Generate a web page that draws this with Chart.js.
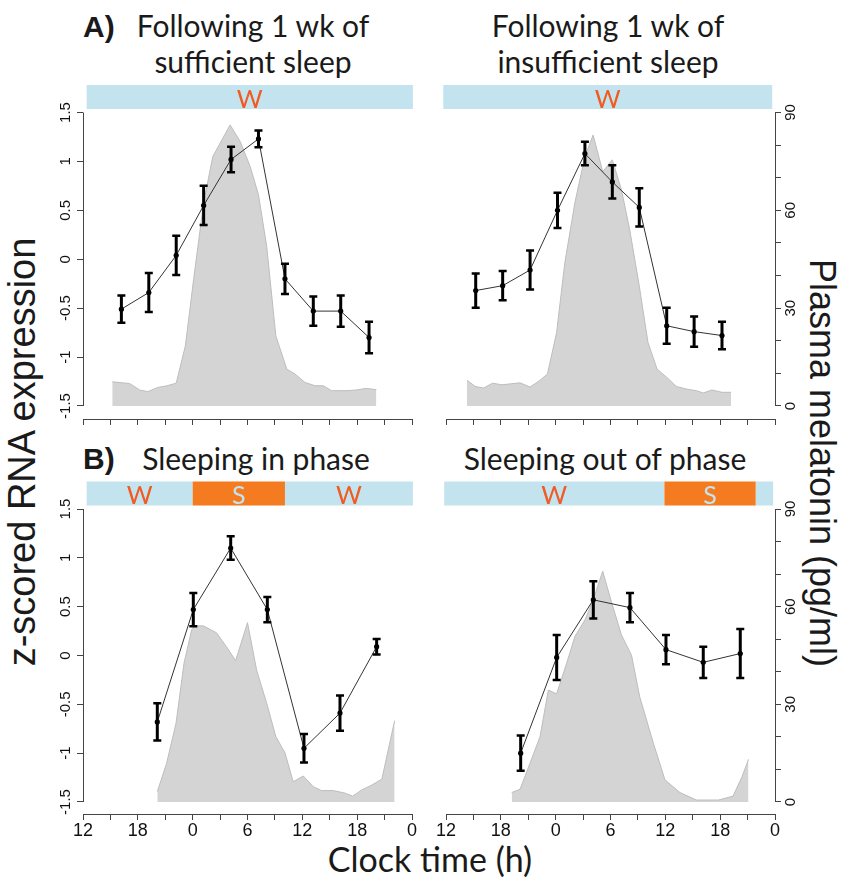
<!DOCTYPE html>
<html>
<head>
<meta charset="utf-8">
<script src="https://cdn.jsdelivr.net/npm/chart.js@4.4.1/dist/chart.umd.min.js"></script>
<style>
html, body { margin: 0; padding: 0; background: #ffffff; }
body { width: 842px; height: 878px; position: relative; overflow: hidden; }
canvas { position: absolute; }
.t { position: absolute; white-space: nowrap; color: #1a1a1a; }
.ttl { font-family: Lato, "Open Sans", sans-serif; font-size: 30px; line-height: 36px; text-align: center; width: 340px; }
.lab { font-family: "Liberation Sans", Arial, sans-serif; font-weight: bold; font-size: 30px; line-height: 30px; }
.ax { font-family: "Liberation Sans", Arial, sans-serif; line-height: 44px; }
</style>
</head>
<body>
<div class="t lab" style="left:83px; top:12px;">A)</div>
<div class="t ttl" style="left:83px; top:7px;">Following 1 wk of<br>sufficient sleep</div>
<div class="t ttl" style="left:438px; top:7px;">Following 1 wk of<br>insufficient sleep</div>
<div class="t lab" style="left:83px; top:444px;">B)</div>
<div class="t ttl" style="left:86px; top:440px;">Sleeping in phase</div>
<div class="t ttl" style="left:435px; top:440px;">Sleeping out of phase</div>
<div class="t ax" style="left:22px; top:452px; font-size:38px; transform: translate(-50%,-50%) rotate(-90deg);">z-scored RNA expression</div>
<div class="t ax" style="left:822px; top:463px; font-size:36px; transform: translate(-50%,-50%) rotate(90deg);">Plasma melatonin (pg/ml)</div>
<div class="t" style="left:430px; top:859px; transform: translate(-50%,-50%); font-family: Lato, sans-serif; font-size: 34px; line-height: 38px;">Clock time (h)</div>

<script>
// ---------- axes (x in hours after 12:00 on day 1) ----------
const xTickValues = [0, 3, 6, 9, 12, 15, 18, 21, 24, 27, 30, 33, 36];
const xTickLabels = ['12', '', '18', '', '0', '', '6', '', '12', '', '18', '', '0'];
const zTickValues = [-1.5, -1, -0.5, 0, 0.5, 1, 1.5];
const zTickLabels = ['-1.5', '-1', '-0.5', '0', '0.5', '1', '1.5'];
const melTickValues = [0, 10, 20, 30, 40, 50, 60, 70, 80, 90];
const melTickLabels = ['0', '', '', '30', '', '', '60', '', '', '90'];

// ---------- A) sufficient sleep ----------
const suffRnaTime = [4.2, 7.2, 10.2, 13.2, 16.2, 19.2, 22.1, 25.2, 28.2, 31.3];
const suffRna = [-0.51, -0.34, 0.04, 0.55, 1.02, 1.23, -0.2, -0.53, -0.53, -0.8];
const suffRnaErr = [0.14, 0.2, 0.2, 0.2, 0.13, 0.085, 0.155, 0.15, 0.16, 0.16];
const suffMelTime = [3.2, 5.1, 6.2, 7.1, 8.2, 9.2, 10.2, 11.2, 12.1, 13.2, 14.2, 16.1, 17.2, 18.3, 19.2, 20.1, 21.1, 22.3, 23.2, 24.3, 25.4, 26.3, 27.2, 28.9, 29.9, 31.0, 32.1];
const suffMel = [7.4, 6.9, 4.9, 4.4, 5.7, 6.2, 7.0, 18.4, 38.8, 62.3, 76.5, 86.2, 81.1, 73.4, 64.8, 49.0, 21.5, 11.3, 9.8, 7.2, 6.2, 6.2, 4.7, 4.7, 4.9, 5.4, 5.0];
const suffStateStart = [0.4];
const suffStateEnd = [36.1];
const suffStateType = ['W'];
const suffStateLabel = ['W'];

// ---------- A) insufficient sleep ----------
const insuffRnaTime = [3.25, 6.2, 9.2, 12.2, 15.2, 18.2, 21.15, 24.15, 27.15, 30.2];
const insuffRna = [-0.32, -0.27, -0.11, 0.5, 1.08, 0.79, 0.53, -0.68, -0.74, -0.78];
const insuffRnaErr = [0.175, 0.15, 0.2, 0.18, 0.12, 0.17, 0.195, 0.185, 0.155, 0.14];
const insuffMelTime = [2.3, 3.2, 4.1, 5.1, 6.1, 7.1, 8.1, 9.2, 10.2, 11.1, 12.1, 13.0, 14.1, 15.2, 16.1, 17.15, 18.2, 19.2, 20.1, 21.15, 22.1, 23.1, 24.15, 25.2, 26.3, 27.4, 28.15, 29.1, 30.2, 31.2];
const insuffMel = [7.9, 6.0, 5.5, 7.0, 6.5, 6.8, 7.1, 5.8, 7.7, 9.8, 22.5, 43.9, 62.3, 76.5, 83.1, 71.9, 75.5, 66.3, 54.1, 36.8, 19.5, 11.3, 8.8, 6.0, 5.2, 4.7, 4.0, 4.9, 4.2, 4.2];
const insuffStateStart = [-0.3];
const insuffStateEnd = [35.7];
const insuffStateType = ['W'];
const insuffStateLabel = ['W'];

// ---------- B) sleeping in phase ----------
const inPhaseRnaTime = [8.13, 12.07, 16.16, 20.17, 24.18, 28.12, 32.13];
const inPhaseRna = [-0.68, 0.47, 1.10, 0.47, -0.95, -0.59, 0.09];
const inPhaseRnaErr = [0.19, 0.17, 0.12, 0.13, 0.145, 0.18, 0.08];
const inPhaseMelTime = [8.13, 9.15, 10.18, 11.05, 11.9, 12.26, 13.17, 14.6, 15.7, 16.7, 18.0, 19.0, 20.1, 21.1, 22.1, 23.0, 24.1, 25.2, 26.1, 27.4, 28.7, 29.5, 30.5, 31.6, 32.7, 34.1];
const inPhaseMel = [3.2, 11.9, 24.2, 42.6, 53.0, 54.1, 54.1, 52.0, 47.7, 43.4, 55.1, 40.5, 30.3, 20.1, 15.1, 6.2, 8.0, 4.7, 3.5, 3.5, 2.7, 1.8, 3.7, 5.2, 7.0, 25.0];
const inPhaseStateStart = [0.4, 12.0, 22.1];
const inPhaseStateEnd = [12.0, 22.1, 36.1];
const inPhaseStateType = ['W', 'S', 'W'];
const inPhaseStateLabel = ['W', 'S', 'W'];

// ---------- B) sleeping out of phase ----------
const outPhaseRnaTime = [8.17, 12.11, 16.12, 20.13, 24.07, 28.15, 32.2];
const outPhaseRna = [-1.0, -0.02, 0.57, 0.49, 0.06, -0.07, 0.02];
const outPhaseRnaErr = [0.18, 0.23, 0.19, 0.15, 0.15, 0.16, 0.25];
const outPhaseMelTime = [7.19, 8.1, 9.19, 10.29, 11.2, 12.1, 13.2, 14.1, 15.2, 16.1, 17.15, 18.1, 19.2, 20.3, 21.2, 22.7, 23.96, 25.6, 27.4, 29.8, 31.4, 32.4, 33.1];
const outPhaseMel = [2.9, 3.9, 11.9, 20.1, 34.4, 33.2, 42.6, 50.8, 55.9, 62.0, 70.9, 61.5, 51.3, 45.1, 32.3, 18.0, 6.8, 2.9, 0.6, 0.6, 1.8, 7.8, 13.1];
const outPhaseStateStart = [-0.2, 23.9, 33.9];
const outPhaseStateEnd = [23.9, 33.9, 35.8];
const outPhaseStateType = ['W', 'S', 'W'];
const outPhaseStateLabel = ['W', 'S', ''];

// ---------- styling ----------
const WAKE_COLOR = '#c3e4ee';
const SLEEP_COLOR = '#f47b20';
const W_LETTER = '#f15a22';
const AXIS_COLOR = '#444444';
const AREA_FILL = '#d4d4d4';
const AREA_LINE = '#bdbdbd';

const panels = [
  { canvas: [40, 76, 392, 356], area: [83, 412, 112.5, 419], left: true, right: false, xlabels: false, zMin: -1.633,
    rnaT: suffRnaTime, rna: suffRna, err: suffRnaErr, melT: suffMelTime, mel: suffMel,
    stStart: suffStateStart, stEnd: suffStateEnd, stType: suffStateType, stLabel: suffStateLabel },
  { canvas: [425, 76, 417, 356], area: [446, 775, 112.5, 419], left: false, right: true, xlabels: false, zMin: -1.633,
    rnaT: insuffRnaTime, rna: insuffRna, err: insuffRnaErr, melT: insuffMelTime, mel: insuffMel,
    stStart: insuffStateStart, stEnd: insuffStateEnd, stType: insuffStateType, stLabel: insuffStateLabel },
  { canvas: [40, 472, 392, 372], area: [83, 412, 509, 814], left: true, right: false, xlabels: true, zMin: -1.623,
    rnaT: inPhaseRnaTime, rna: inPhaseRna, err: inPhaseRnaErr, melT: inPhaseMelTime, mel: inPhaseMel,
    stStart: inPhaseStateStart, stEnd: inPhaseStateEnd, stType: inPhaseStateType, stLabel: inPhaseStateLabel },
  { canvas: [425, 472, 417, 372], area: [446, 775, 509, 814], left: false, right: true, xlabels: true, zMin: -1.623,
    rnaT: outPhaseRnaTime, rna: outPhaseRna, err: outPhaseRnaErr, melT: outPhaseMelTime, mel: outPhaseMel,
    stStart: outPhaseStateStart, stEnd: outPhaseStateEnd, stType: outPhaseStateType, stLabel: outPhaseStateLabel }
];

function align(px) { return Math.round(px - 0.5) + 0.5; }

function decorFor(p) {
  return {
    id: 'decor',
    afterDatasetsDraw(chart) {
      const ctx = chart.ctx, xs = chart.scales.x, zs = chart.scales.z;
      ctx.save();
      ctx.strokeStyle = '#000';
      p.rnaT.forEach((t, i) => {
        const px = xs.getPixelForValue(t);
        const lo = zs.getPixelForValue(p.rna[i] - p.err[i]);
        const hi = zs.getPixelForValue(p.rna[i] + p.err[i]);
        ctx.lineWidth = 3;
        ctx.beginPath(); ctx.moveTo(px, lo); ctx.lineTo(px, hi); ctx.stroke();
        ctx.lineWidth = 2.5;
        ctx.beginPath();
        ctx.moveTo(px - 4, lo); ctx.lineTo(px + 4, lo);
        ctx.moveTo(px - 4, hi); ctx.lineTo(px + 4, hi);
        ctx.stroke();
      });
      ctx.restore();
    },
    afterDraw(chart) {
      const ctx = chart.ctx, xs = chart.scales.x, area = chart.chartArea;
      ctx.save();
      ctx.strokeStyle = AXIS_COLOR; ctx.lineWidth = 1;
      if (p.left) {
        const s = chart.scales.z, x = align(s.right);
        ctx.beginPath();
        ctx.moveTo(x, s.getPixelForValue(zTickValues[zTickValues.length - 1]));
        ctx.lineTo(x, s.getPixelForValue(zTickValues[0]));
        ctx.stroke();
      }
      if (p.right) {
        const s = chart.scales.mel, x = align(s.left);
        ctx.beginPath();
        ctx.moveTo(x, s.getPixelForValue(melTickValues[melTickValues.length - 1]));
        ctx.lineTo(x, s.getPixelForValue(melTickValues[0]));
        ctx.stroke();
      }
      // wake / sleep bar
      const top = area.top - 27.5, h = 24;
      p.stStart.forEach((st, i) => {
        const x1 = xs.getPixelForValue(st), x2 = xs.getPixelForValue(p.stEnd[i]);
        const sleep = p.stType[i] === 'S';
        ctx.fillStyle = sleep ? SLEEP_COLOR : WAKE_COLOR;
        ctx.fillRect(x1, top, x2 - x1, h);
      });
      p.stStart.forEach((st, i) => {
        if (!p.stLabel[i]) return;
        const x1 = xs.getPixelForValue(st), x2 = xs.getPixelForValue(p.stEnd[i]);
        const sleep = p.stType[i] === 'S';
        ctx.fillStyle = sleep ? WAKE_COLOR : W_LETTER;
        ctx.font = '25px Lato, "Open Sans", sans-serif';
        ctx.textAlign = 'center';
        ctx.textBaseline = 'alphabetic';
        ctx.fillText(p.stLabel[i], (x1 + x2) / 2, top + h - 1.5);
      });
      ctx.restore();
    }
  };
}

function makeChart(p) {
  const [cl, ct, cw, ch] = p.canvas;
  const [al, ar, at, ab] = p.area;
  const cv = document.createElement('canvas');
  cv.width = cw; cv.height = ch;
  cv.style.left = cl + 'px'; cv.style.top = ct + 'px';
  cv.style.width = cw + 'px'; cv.style.height = ch + 'px';
  document.body.appendChild(cv);
  const LW = p.left ? 40 : 0, RW = p.right ? 40 : 0, XH = p.xlabels ? 28 : 12;
  const pad = {
    left: al - cl - LW,
    right: (cl + cw) - ar - RW,
    top: at - ct,
    bottom: (ct + ch) - ab - XH
  };
  const melMin = (p.zMin + 1.5) * 30;
  const tickFontY = { family: '"Liberation Sans", Arial, sans-serif', size: 15 };
  new Chart(cv, {
    type: 'line',
    data: {
      datasets: [
        {
          label: 'RNA expression',
          data: p.rnaT.map((t, i) => ({ x: t, y: p.rna[i] })),
          xAxisID: 'x', yAxisID: 'z',
          borderColor: '#333', borderWidth: 1,
          pointRadius: 2.6, pointBackgroundColor: '#000', pointBorderWidth: 0,
          fill: false, tension: 0, order: 0
        },
        {
          label: 'Plasma melatonin',
          data: p.melT.map((t, i) => ({ x: t, y: p.mel[i] })),
          xAxisID: 'x', yAxisID: 'mel',
          borderColor: AREA_LINE, borderWidth: 1, backgroundColor: AREA_FILL,
          fill: { value: 0 }, pointRadius: 0, tension: 0, order: 1
        }
      ]
    },
    options: {
      responsive: false, animation: false, devicePixelRatio: 1,
      layout: { padding: pad },
      plugins: { legend: { display: false }, tooltip: { enabled: false }, title: { display: false } },
      scales: {
        x: {
          type: 'linear', position: 'bottom', min: 0, max: 36,
          afterBuildTicks: s => { s.ticks = xTickValues.map(v => ({ value: v })); },
          afterFit: s => { s.height = XH; },
          ticks: { display: p.xlabels, autoSkip: false, minRotation: 0, maxRotation: 0, padding: 0, color: '#111',
                   font: { family: '"Liberation Sans", Arial, sans-serif', size: 18 },
                   callback: (v, i) => xTickLabels[i] },
          grid: { drawOnChartArea: false, drawTicks: true, tickLength: 6, color: AXIS_COLOR, tickColor: AXIS_COLOR, lineWidth: 1 },
          border: { display: true, color: AXIS_COLOR, width: 1 }
        },
        z: {
          type: 'linear', position: 'left', display: p.left, min: p.zMin, max: 1.5,
          afterBuildTicks: s => { s.ticks = zTickValues.map(v => ({ value: v })); },
          afterFit: s => { s.width = LW; },
          ticks: { autoSkip: false, minRotation: 90, maxRotation: 90, crossAlign: 'center', padding: -2, color: '#111',
                   font: tickFontY, callback: (v, i) => zTickLabels[i] },
          grid: { drawOnChartArea: false, drawTicks: true, tickLength: 6, color: AXIS_COLOR, tickColor: AXIS_COLOR },
          border: { display: false }
        },
        mel: {
          type: 'linear', position: 'right', display: p.right, min: melMin, max: 90,
          afterBuildTicks: s => { s.ticks = melTickValues.map(v => ({ value: v })); },
          afterFit: s => { s.width = RW; },
          ticks: { autoSkip: false, minRotation: 90, maxRotation: 90, crossAlign: 'center', padding: 2, color: '#111',
                   font: tickFontY, callback: (v, i) => melTickLabels[i] },
          grid: { drawOnChartArea: false, drawTicks: true, tickLength: 6, color: AXIS_COLOR, tickColor: AXIS_COLOR },
          border: { display: false }
        }
      }
    },
    plugins: [decorFor(p)]
  });
}

panels.forEach(makeChart);
</script>
</body>
</html>
